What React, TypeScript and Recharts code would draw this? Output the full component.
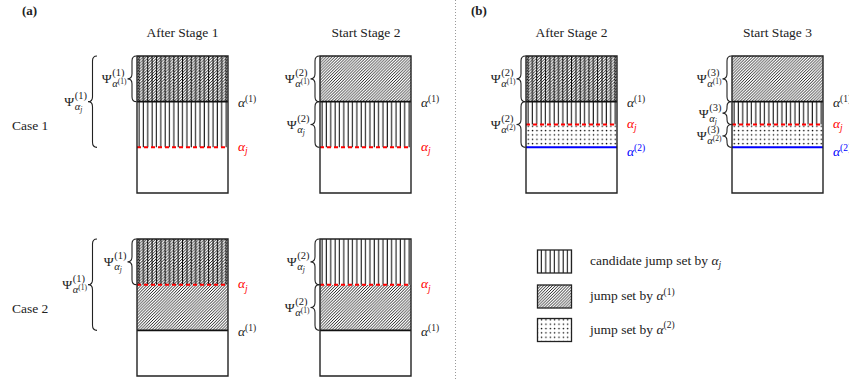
import React from "react";
import { BarChart, Bar, XAxis, YAxis, ReferenceLine, ReferenceArea } from "recharts";

const FONT = '"Liberation Serif", "Times New Roman", serif';
const INK = "#222";

type SetKind = "none" | "candidate" | "jump1" | "both" | "jump2";
type Segment = { set: SetKind; size: number };
type MarkKind = "alpha1" | "alphaj" | "alpha2";
type Mark = { kind: MarkKind; at: number };
type Brace = { from: number; to: number; stage: number; of: "j" | "1" | "2"; outer?: boolean };

// each box is 3 units tall, segments stacked from the bottom up
const case1After1: Segment[] = [
  { set: "none", size: 1 },
  { set: "candidate", size: 1 },
  { set: "both", size: 1 },
];
const case1Start2: Segment[] = [
  { set: "none", size: 1 },
  { set: "candidate", size: 1 },
  { set: "jump1", size: 1 },
];
const case2After1: Segment[] = [
  { set: "none", size: 1 },
  { set: "jump1", size: 1 },
  { set: "both", size: 1 },
];
const case2Start2: Segment[] = [
  { set: "none", size: 1 },
  { set: "jump1", size: 1 },
  { set: "candidate", size: 1 },
];
const bAfter2: Segment[] = [
  { set: "none", size: 1 },
  { set: "jump2", size: 0.5 },
  { set: "candidate", size: 0.5 },
  { set: "both", size: 1 },
];
const bStart3: Segment[] = [
  { set: "none", size: 1 },
  { set: "jump2", size: 0.5 },
  { set: "candidate", size: 0.5 },
  { set: "jump1", size: 1 },
];

const case1Marks: Mark[] = [
  { kind: "alphaj", at: 1 },
  { kind: "alpha1", at: 2 },
];
const case2Marks: Mark[] = [
  { kind: "alpha1", at: 1 },
  { kind: "alphaj", at: 2 },
];
const bMarks: Mark[] = [
  { kind: "alpha2", at: 1 },
  { kind: "alphaj", at: 1.5 },
  { kind: "alpha1", at: 2 },
];

const case1After1Braces: Brace[] = [
  { from: 1, to: 3, stage: 1, of: "j", outer: true },
  { from: 2, to: 3, stage: 1, of: "1" },
];
const case1Start2Braces: Brace[] = [
  { from: 2, to: 3, stage: 2, of: "1" },
  { from: 1, to: 2, stage: 2, of: "j" },
];
const case2After1Braces: Brace[] = [
  { from: 1, to: 3, stage: 1, of: "1", outer: true },
  { from: 2, to: 3, stage: 1, of: "j" },
];
const case2Start2Braces: Brace[] = [
  { from: 2, to: 3, stage: 2, of: "j" },
  { from: 1, to: 2, stage: 2, of: "1" },
];
const bAfter2Braces: Brace[] = [
  { from: 2, to: 3, stage: 2, of: "1" },
  { from: 1, to: 2, stage: 2, of: "2" },
];
const bStart3Braces: Brace[] = [
  { from: 2, to: 3, stage: 3, of: "1" },
  { from: 1.5, to: 2, stage: 3, of: "j" },
  { from: 1, to: 1.5, stage: 3, of: "2" },
];

const titles = ["After Stage 1", "Start Stage 2", "After Stage 2", "Start Stage 3"];
const caseLabels = ["Case 1", "Case 2"];
const legendItems: { set: SetKind; text: string; of: "j" | "1" | "2" }[] = [
  { set: "candidate", text: "candidate jump set by ", of: "j" },
  { set: "jump1", text: "jump set by ", of: "1" },
  { set: "jump2", text: "jump set by ", of: "2" },
];

const FILL: Record<SetKind, string> = {
  none: "#fff",
  candidate: "url(#pVert)",
  jump1: "url(#pHatch)",
  both: "url(#pCross)",
  jump2: "url(#pDots)",
};

const MARK_STYLE: Record<MarkKind, { stroke: string; width: number; dash?: string; dy: number }> = {
  alpha1: { stroke: "#111", width: 1.8, dy: 5.5 },
  alphaj: { stroke: "#f00", width: 2, dash: "4 3", dy: 3.5 },
  alpha2: { stroke: "#00f", width: 2, dy: 8.5 },
};

let ctx: CanvasRenderingContext2D | null = null;
function textW(s: string, size: number, italic = false) {
  if (!ctx) ctx = document.createElement("canvas").getContext("2d");
  if (!ctx) return s.length * size * 0.5;
  ctx.font = `${italic ? "italic " : ""}${size}px "Liberation Serif"`;
  return ctx.measureText(s).width;
}

// alpha with its own index: alpha_j or alpha^(n)
function Alpha({ of, size, tiny }: { of: string; size: number; tiny: number }) {
  if (of === "j")
    return (
      <>
        <tspan fontStyle="italic">α</tspan>
        <tspan fontSize={tiny} fontStyle="italic" dy={size * 0.25}>j</tspan>
      </>
    );
  return (
    <>
      <tspan fontStyle="italic">α</tspan>
      <tspan fontSize={tiny} dy={-size * 0.38}>({of})</tspan>
    </>
  );
}

const PSI = 13.5;
const SCRIPT = 10.5;
const TINY = 7.5;

function PsiLabel({ xEnd, yc, stage, of }: { xEnd: number; yc: number; stage: number; of: string }) {
  const wPsi = textW("Ψ", PSI);
  const sup = `(${stage})`;
  const wSup = textW(sup, SCRIPT);
  const wAlpha = textW("α", SCRIPT, true);
  const tiny = of === "j" ? "j" : `(${of})`;
  const wTiny = textW(tiny, TINY, of === "j");
  const x0 = xEnd - Math.max(wSup, wAlpha + wTiny) - wPsi;
  const xs = x0 + wPsi + 0.5;
  return (
    <g fill={INK} fontFamily={FONT}>
      <text x={x0} y={yc + 4.5} fontSize={PSI}>Ψ</text>
      <text x={xs} y={yc - 2.5} fontSize={SCRIPT}>{sup}</text>
      <text x={xs} y={yc + 8.5} fontSize={SCRIPT} fontStyle="italic">α</text>
      <text
        x={xs + wAlpha}
        y={of === "j" ? yc + 10.5 : yc + 5.5}
        fontSize={TINY}
        fontStyle={of === "j" ? "italic" : "normal"}
      >
        {tiny}
      </text>
    </g>
  );
}

function bracePath(xr: number, y1: number, y2: number) {
  const w = 9;
  const xm = xr - w / 2;
  const xt = xr - w;
  const ym = (y1 + y2) / 2;
  const r = Math.min(5, (y2 - y1) / 4);
  return `M${xr},${y1} Q${xm},${y1} ${xm},${y1 + r} L${xm},${ym - r} Q${xm},${ym} ${xt},${ym} Q${xm},${ym} ${xm},${ym + r} L${xm},${y2 - r} Q${xm},${y2} ${xr},${y2}`;
}

function BraceMark(props: any) {
  const { x, y, height, brace } = props;
  const xr = brace.outer ? x - 40 : x - 0.5;
  return (
    <g>
      <path d={bracePath(xr, y, y + height)} fill="none" stroke={INK} strokeWidth={1.1} />
      <PsiLabel xEnd={xr - 10.5} yc={y + height / 2} stage={brace.stage} of={brace.of} />
    </g>
  );
}

function MarkLine(props: any) {
  const { x1, y1, x2, y2, kind } = props;
  const s = MARK_STYLE[kind as MarkKind];
  const of = kind === "alphaj" ? "j" : kind === "alpha1" ? "1" : "2";
  return (
    <g>
      <line x1={x1} y1={y1} x2={x2} y2={y2} stroke={s.stroke} strokeWidth={s.width} strokeDasharray={s.dash} />
      <text x={x2 + 10} y={y1 + s.dy} fill={kind === "alpha1" ? INK : s.stroke} fontFamily={FONT} fontSize={13.5}>
        <Alpha of={of} size={13.5} tiny={9.5} />
      </text>
    </g>
  );
}

const M = { top: 6, right: 59, bottom: 7, left: 100 };
const CW = 250;
const CH = 150;

function Panel({ segments, marks, braces, left, top }: {
  segments: Segment[]; marks: Mark[]; braces: Brace[]; left: number; top: number;
}) {
  const row: Record<string, number | string> = { name: "set" };
  segments.forEach((s, i) => (row[`s${i}`] = s.size));
  return (
    <div style={{ position: "absolute", left: left - M.left, top: top - M.top }}>
      <BarChart width={CW} height={CH} data={[row]} margin={M} barCategoryGap={0} barGap={0}>
        <XAxis dataKey="name" hide />
        <YAxis type="number" domain={[0, 3]} hide />
        {segments.map((s, i) => (
          <Bar key={i} dataKey={`s${i}`} stackId="box" fill={FILL[s.set]} isAnimationActive={false} />
        ))}
        {braces.map((b, i) => (
          <ReferenceArea key={`b${i}`} y1={b.from} y2={b.to} shape={(p: any) => <BraceMark {...p} brace={b} />} />
        ))}
        <ReferenceArea y1={0} y2={3} fill="none" fillOpacity={0} stroke={INK} strokeWidth={1.4} zIndex={600} />
        {marks.map((m, i) => (
          <ReferenceLine key={`m${i}`} y={m.at} shape={(p: any) => <MarkLine {...p} kind={m.kind} />} />
        ))}
      </BarChart>
    </div>
  );
}

const H = 2.9; // hatch spacing
const V = 4.35; // vertical line spacing

export default function App() {
  const hatchPath = [0, 1, 2, 3, 4]
    .map((k) => `M${k * H + 0.8},${-0.8} L${k * H - H - 0.8},${H + 0.8}`)
    .join(" ");
  return (
    <div style={{ position: "relative", width: 849, height: 379, overflow: "hidden", background: "#fff", fontFamily: FONT }}>
      <style>{"body{margin:0}"}</style>
      <svg width={0} height={0} style={{ position: "absolute" }}>
        <defs>
          <pattern id="pVert" patternUnits="userSpaceOnUse" width={V} height={10}>
            <rect width={V} height={10} fill="#fff" />
            <line x1={2} y1={0} x2={2} y2={10} stroke="#000" strokeWidth={1} />
          </pattern>
          <pattern id="pHatch" patternUnits="userSpaceOnUse" width={H} height={H}>
            <rect width={H} height={H} fill="#fff" />
            <path d={`M${H + 0.8},${-0.8} L${-0.8},${H + 0.8} M0.8,-0.8 L-0.8,0.8 M${H + 0.8},${H - 0.8} L${H - 0.8},${H + 0.8}`} stroke="#000" strokeWidth={0.85} />
          </pattern>
          <pattern id="pCross" patternUnits="userSpaceOnUse" width={3 * H} height={H}>
            <rect width={3 * H} height={H} fill="#fff" />
            <path d={hatchPath} stroke="#000" strokeWidth={0.85} />
            <line x1={2} y1={0} x2={2} y2={H} stroke="#000" strokeWidth={1} />
            <line x1={2 + V} y1={0} x2={2 + V} y2={H} stroke="#000" strokeWidth={1} />
          </pattern>
          <pattern id="pDots" patternUnits="userSpaceOnUse" width={V} height={V}>
            <rect width={V} height={V} fill="#fff" />
            <circle cx={2.2} cy={2.2} r={0.75} fill="#000" />
          </pattern>
        </defs>
      </svg>

      <Panel segments={case1After1} marks={case1Marks} braces={case1After1Braces} left={137} top={56} />
      <Panel segments={case1Start2} marks={case1Marks} braces={case1Start2Braces} left={320} top={56} />
      <Panel segments={case2After1} marks={case2Marks} braces={case2After1Braces} left={137} top={239} />
      <Panel segments={case2Start2} marks={case2Marks} braces={case2Start2Braces} left={320} top={239} />
      <Panel segments={bAfter2} marks={bMarks} braces={bAfter2Braces} left={526} top={56} />
      <Panel segments={bStart3} marks={bMarks} braces={bStart3Braces} left={732} top={56} />

      <svg width={849} height={379} style={{ position: "absolute", left: 0, top: 0, pointerEvents: "none" }} fontFamily={FONT}>
        <line x1={455.5} y1={0} x2={455.5} y2={379} stroke="#999" strokeWidth={1} strokeDasharray="1 2" />
        <text x={22} y={15} fontSize={13} fontWeight="bold" fill={INK}>(a)</text>
        <text x={471} y={15} fontSize={13} fontWeight="bold" fill={INK}>(b)</text>
        {titles.map((t, i) => (
          <text key={t} x={[182.5, 366, 571.5, 777.5][i]} y={36.5} fontSize={13.5} textAnchor="middle" fill={INK}>
            {t}
          </text>
        ))}
        {caseLabels.map((t, i) => (
          <text key={t} x={12} y={[130, 312.5][i]} fontSize={13.5} fill={INK}>
            {t}
          </text>
        ))}
        {legendItems.map((it, i) => {
          const y = [250, 285, 318.5][i];
          return (
            <g key={i}>
              <rect x={537.5} y={y} width={34} height={23} fill={FILL[it.set]} stroke={INK} strokeWidth={1.3} />
              <text x={590} y={y + 15} fontSize={13.5} fill={INK}>
                {it.text}
                <Alpha of={it.of} size={13.5} tiny={9.5} />
              </text>
            </g>
          );
        })}
      </svg>
    </div>
  );
}
